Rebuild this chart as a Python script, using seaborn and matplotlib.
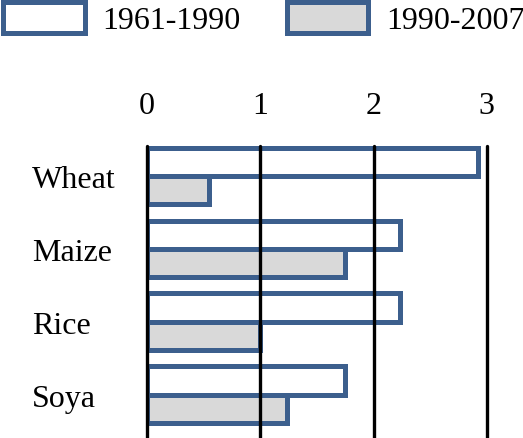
import pandas as pd
import seaborn as sns
import matplotlib.pyplot as plt

crops = ["Wheat", "Maize", "Rice", "Soya"]
period_1 = [2.92, 2.23, 2.23, 1.75]   # 1961-1990
period_2 = [0.55, 1.75, 1.0, 1.24]    # 1990-2007
periods = ["1961-1990", "1990-2007"]
x_ticks = [0, 1, 2, 3]


def main():
    sns.set_style("white")
    plt.rcParams['font.family'] = ['Liberation Serif', 'DejaVu Serif']
    plt.rcParams['text.color'] = 'black'
    plt.rcParams['xtick.color'] = 'black'
    plt.rcParams['ytick.color'] = 'black'

    df = pd.DataFrame({
        "crop": crops * 2,
        "value": period_1 + period_2,
        "period": [periods[0]] * len(crops) + [periods[1]] * len(crops),
    })

    fig = plt.figure(figsize=(5.23, 4.39), dpi=100)
    ax = fig.add_axes([0.281, 0.0, 0.65, 0.665])
    sns.barplot(data=df, x="value", y="crop", hue="period", orient="h",
                palette=["white", "#D9D9D9"], edgecolor="#3C5F8D",
                linewidth=3.6, width=0.78, ax=ax)

    ax.set_xlim(0, 3)
    ax.set_ylim(3.59, -0.41)
    ax.set_xticks(x_ticks)
    ax.xaxis.tick_top()
    ax.tick_params(axis="x", length=0, pad=19, labelsize=23)
    ax.tick_params(axis="y", length=0, pad=83, labelsize=23)
    for lab in ax.get_yticklabels():
        lab.set_horizontalalignment("left")
    ax.set_xlabel("")
    ax.set_ylabel("")
    ax.set_axisbelow(False)
    ax.grid(axis="x", color="black", linewidth=2.4)
    ax.grid(axis="y", visible=False)
    for gl in ax.get_xgridlines():
        gl.set_clip_on(False)
    for s in ax.spines.values():
        s.set_visible(False)

    handles, labels = ax.get_legend_handles_labels()
    ax.get_legend().remove()
    fig.legend(handles, labels, loc="upper left", bbox_to_anchor=(0.0, 1.0),
               ncol=2, frameon=False, fontsize=23, handlelength=2.55,
               handleheight=1.1, handletextpad=0.55, columnspacing=1.45,
               borderaxespad=0.05, borderpad=0.05)

    fig.savefig("out.png", dpi=100)


if __name__ == '__main__':
    main()
